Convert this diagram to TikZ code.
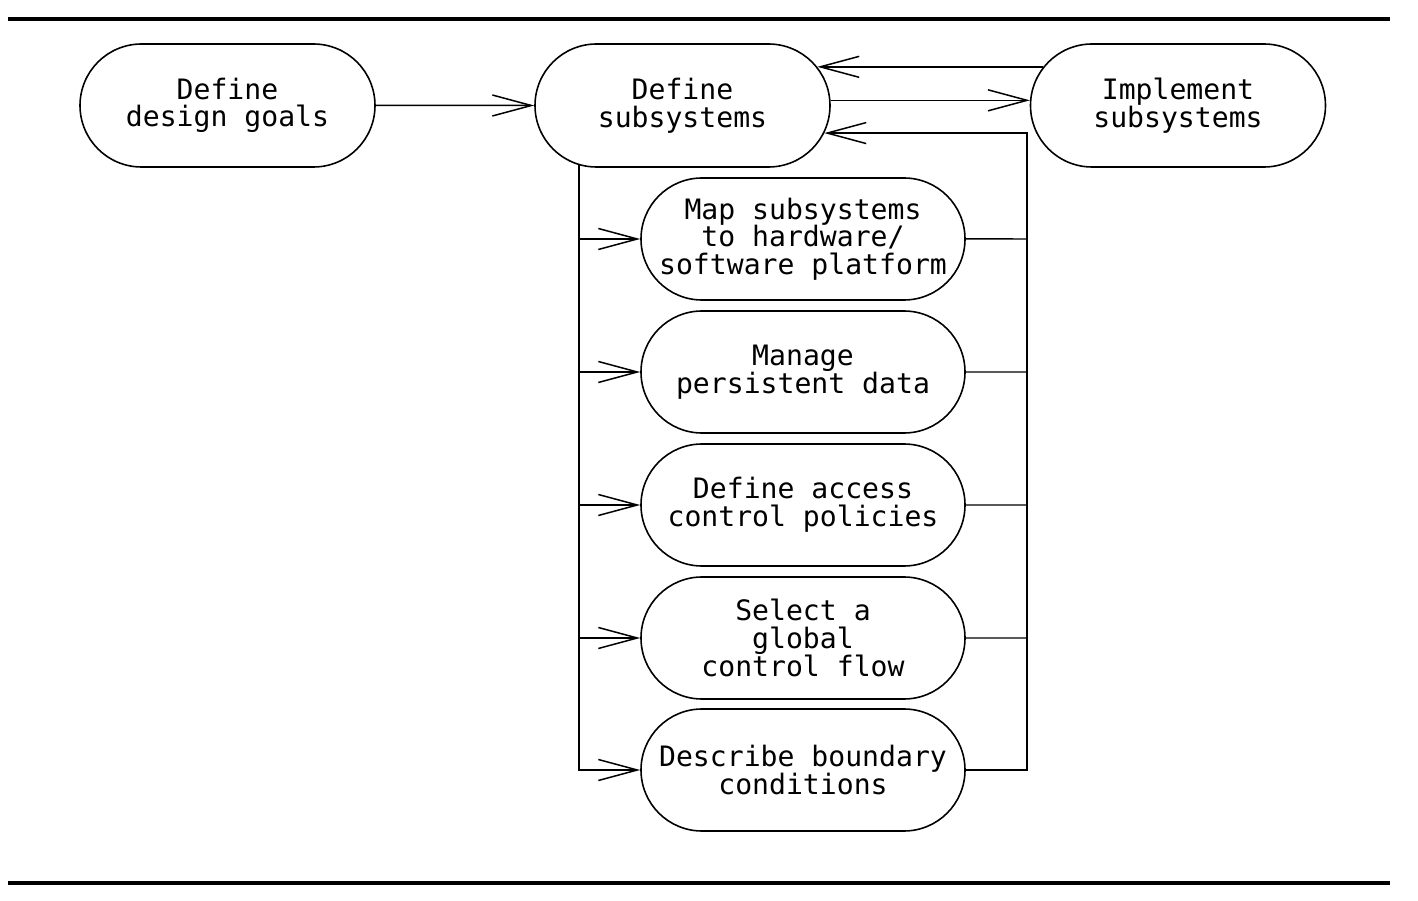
\documentclass[tikz,border=0pt]{standalone}
\usepackage{fontspec}
\usepackage{tikz}
\usetikzlibrary{arrows.meta,shapes.misc}
\newfontfamily\diagfont{DejaVu Sans Mono}

\begin{document}
\begin{tikzpicture}[
  stage/.style={draw,line width=0.9pt,rounded rectangle,align=center,inner sep=0pt,
    font=\diagfont\fontsize{16pt}{15.7pt}\selectfont},
  wide/.style={stage,minimum width=6.48cm,minimum height=2.44cm},
  top/.style={stage,minimum width=5.9cm,minimum height=2.46cm},
  flowline/.style={line width=0.85pt,-{Straight Barb[length=0.78cm,width=0.42cm,line width=0.85pt]}}
]
\useasboundingbox (0,0) rectangle (28.36,18);
\draw[line width=1.9pt] (0.16,17.62) -- (27.8,17.62);
\draw[line width=1.9pt] (0.16,0.34) -- (27.8,0.34);

\node[top] (goals) at (4.55,15.89) {Define\\design goals};
\node[top] (sub) at (13.65,15.89) {Define\\subsystems};
\node[top] (impl) at (23.56,15.89) {Implement\\subsystems};
\node[wide] (map) at (16.06,13.22) {Map subsystems\\to hardware/\\software platform};
\node[wide] (data) at (16.06,10.56) {Manage\\persistent data};
\node[wide] (access) at (16.06,7.90) {Define access\\control policies};
\node[wide] (flow) at (16.06,5.24) {Select a\\global\\control flow};
\node[wide] (bound) at (16.06,2.60) {Describe boundary\\conditions};
\coordinate (railR) at (20.54,0);

\draw[flowline] (goals) -- (sub);
\draw[flowline] (sub.2) -- (impl.178);
\draw[flowline] (impl.164) -- (sub.16);
\foreach \n in {map,data,access,flow,bound}
  \draw[flowline] (sub.210) |- (\n);
\foreach \n in {map,data,access,flow}
  \draw[line width=0.85pt] (\n) -- (\n -| railR);
\draw[flowline] (bound) -| (railR |- sub.-11) -- (sub.-11);
\end{tikzpicture}
\end{document}
